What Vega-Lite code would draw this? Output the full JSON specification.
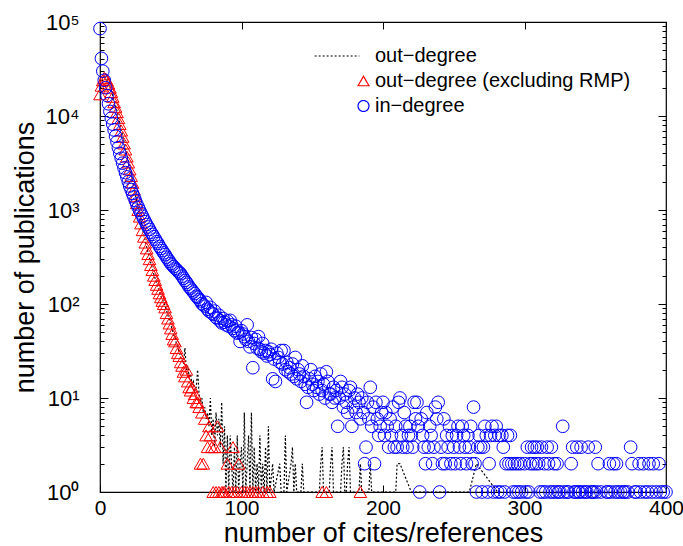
{
  "$schema": "https://vega.github.io/schema/vega-lite/v6.json",
  "width": 566,
  "height": 470,
  "autosize": "none",
  "padding": {"left": 100, "top": 22, "right": 17, "bottom": 54},
  "config": {
    "font": "Liberation Sans",
    "view": {"stroke": "black", "strokeWidth": 1.2},
    "axis": {"grid": false, "domain": false, "tickColor": "black", "tickWidth": 1, "labelColor": "black", "titleColor": "black", "titleFontWeight": "normal", "labelFont": "Liberation Sans", "titleFont": "Liberation Sans"},
    "legend": {"orient": "none", "legendX": 256, "legendY": 24, "labelFontSize": 20, "labelFont": "Liberation Sans", "labelColor": "black", "labelLimit": 0, "symbolSize": 120, "symbolStrokeWidth": 1.2, "labelOffset": -1, "rowPadding": 5, "padding": 0}
  },
  "datasets": {
    "indeg": [
      {"k":0,"n":85000},{"k":1,"n":41000},{"k":2,"n":30000},{"k":3,"n":24000},{"k":4,"n":20000},{"k":5,"n":16500},{"k":6,"n":13500},{"k":7,"n":11200},{"k":8,"n":9500},{"k":9,"n":8200},
      {"k":10,"n":7100},{"k":11,"n":6100},{"k":12,"n":5300},{"k":13,"n":4600},{"k":14,"n":4000},{"k":15,"n":3550},{"k":16,"n":3150},{"k":17,"n":2800},{"k":18,"n":2500},{"k":19,"n":2250},
      {"k":20,"n":2000},{"k":21,"n":1800},{"k":22,"n":1650},{"k":23,"n":1500},{"k":24,"n":1380},{"k":25,"n":1260},{"k":26,"n":1160},{"k":27,"n":1070},{"k":28,"n":990},{"k":29,"n":920},
      {"k":30,"n":860},{"k":31,"n":800},{"k":32,"n":750},{"k":33,"n":700},{"k":34,"n":660},{"k":35,"n":620},{"k":36,"n":580},{"k":37,"n":550},{"k":38,"n":520},{"k":39,"n":490},
      {"k":40,"n":460},{"k":41,"n":440},{"k":42,"n":410},{"k":43,"n":390},{"k":44,"n":370},{"k":45,"n":350},{"k":46,"n":335},{"k":47,"n":315},{"k":48,"n":300},{"k":49,"n":285},
      {"k":50,"n":270},{"k":51,"n":260},{"k":52,"n":250},{"k":53,"n":240},{"k":54,"n":232},{"k":55,"n":224},{"k":56,"n":215},{"k":57,"n":210},{"k":58,"n":198},{"k":59,"n":188},
      {"k":60,"n":178},{"k":61,"n":170},{"k":62,"n":162},{"k":63,"n":152},{"k":64,"n":147},{"k":65,"n":140},{"k":66,"n":134},{"k":67,"n":129},{"k":68,"n":121},{"k":69,"n":118},
      {"k":70,"n":112},{"k":71,"n":108},{"k":72,"n":101},{"k":73,"n":98},{"k":74,"n":95},{"k":75,"n":104},{"k":76,"n":88},{"k":77,"n":84},{"k":78,"n":92},{"k":79,"n":80},
      {"k":80,"n":78},{"k":81,"n":84},{"k":82,"n":72},{"k":83,"n":70},{"k":84,"n":76},{"k":85,"n":66},{"k":86,"n":63},{"k":87,"n":70},{"k":88,"n":64},{"k":89,"n":60},
      {"k":90,"n":66},{"k":91,"n":58},{"k":92,"n":67},{"k":93,"n":60},{"k":94,"n":55},{"k":95,"n":52},{"k":96,"n":58},{"k":97,"n":49},{"k":98,"n":50},{"k":99,"n":40},
      {"k":100,"n":52},{"k":101,"n":48},{"k":102,"n":45},{"k":103,"n":42},{"k":104,"n":60},{"k":105,"n":40},{"k":106,"n":35},{"k":107,"n":44},{"k":108,"n":21},{"k":109,"n":38},
      {"k":110,"n":42},{"k":111,"n":34},{"k":112,"n":45},{"k":113,"n":33},{"k":114,"n":31},{"k":115,"n":38},{"k":116,"n":30},{"k":117,"n":32},{"k":118,"n":28},{"k":119,"n":31},
      {"k":120,"n":29},{"k":121,"n":33},{"k":122,"n":16},{"k":123,"n":26},{"k":124,"n":15},{"k":125,"n":30},{"k":126,"n":27},{"k":127,"n":24},{"k":128,"n":32},{"k":129,"n":23},
      {"k":130,"n":32},{"k":131,"n":20},{"k":132,"n":24},{"k":133,"n":19},{"k":134,"n":21},{"k":135,"n":18},{"k":136,"n":23},{"k":137,"n":17},{"k":138,"n":27},{"k":139,"n":16},
      {"k":140,"n":20},{"k":141,"n":18},{"k":142,"n":15},{"k":143,"n":22},{"k":144,"n":17},{"k":145,"n":14},{"k":146,"n":9},{"k":147,"n":13},{"k":148,"n":16},{"k":149,"n":20},
      {"k":150,"n":14},{"k":151,"n":12},{"k":152,"n":17},{"k":153,"n":13},{"k":154,"n":15},{"k":155,"n":11},{"k":156,"n":18},{"k":157,"n":12},{"k":158,"n":14},{"k":159,"n":10},
      {"k":160,"n":19},{"k":161,"n":15},{"k":162,"n":11},{"k":163,"n":11},{"k":164,"n":9},{"k":165,"n":13},{"k":166,"n":10},{"k":167,"n":12},{"k":168,"n":5},{"k":169,"n":10},
      {"k":170,"n":15},{"k":171,"n":13},{"k":172,"n":8},{"k":173,"n":11},{"k":174,"n":9},{"k":175,"n":7},{"k":176,"n":12},{"k":177,"n":13},{"k":178,"n":5},{"k":179,"n":8},
      {"k":180,"n":10},{"k":181,"n":7},{"k":182,"n":11},{"k":183,"n":9},{"k":184,"n":6},{"k":185,"n":10},{"k":186,"n":7},{"k":187,"n":2},{"k":188,"n":3},{"k":189,"n":9},
      {"k":190,"n":6},{"k":191,"n":13},{"k":192,"n":5},{"k":193,"n":8},{"k":194,"n":2},{"k":195,"n":9},{"k":196,"n":6},{"k":197,"n":4},{"k":198,"n":5},{"k":199,"n":7},
      {"k":200,"n":9},{"k":201,"n":4},{"k":202,"n":7},{"k":203,"n":5},{"k":204,"n":3},{"k":205,"n":6},{"k":206,"n":4},{"k":207,"n":8},{"k":208,"n":3},{"k":209,"n":5},
      {"k":210,"n":3},{"k":211,"n":9},{"k":212,"n":10},{"k":213,"n":4},{"k":214,"n":3},{"k":215,"n":7},{"k":216,"n":5},{"k":217,"n":3},{"k":218,"n":4},{"k":219,"n":5},
      {"k":220,"n":4},{"k":221,"n":3},{"k":222,"n":9},{"k":223,"n":6},{"k":224,"n":9},{"k":225,"n":5},{"k":226,"n":1},{"k":227,"n":6},{"k":228,"n":4},{"k":229,"n":3},
      {"k":230,"n":2},{"k":231,"n":7},{"k":232,"n":3},{"k":233,"n":5},{"k":234,"n":4},{"k":235,"n":2},{"k":236,"n":3},{"k":237,"n":8},{"k":238,"n":6},{"k":239,"n":9},
      {"k":240,"n":1},{"k":241,"n":3},{"k":242,"n":2},{"k":243,"n":6},{"k":244,"n":2},{"k":245,"n":4},{"k":246,"n":3},{"k":247,"n":5},{"k":248,"n":2},{"k":249,"n":4},
      {"k":250,"n":3},{"k":251,"n":2},{"k":252,"n":4},{"k":253,"n":5},{"k":254,"n":3},{"k":255,"n":2},{"k":256,"n":5},{"k":257,"n":4},{"k":258,"n":3},{"k":259,"n":2},
      {"k":260,"n":4},{"k":261,"n":3},{"k":262,"n":5},{"k":263,"n":2},{"k":264,"n":8},{"k":265,"n":2},{"k":266,"n":1},{"k":267,"n":3},{"k":268,"n":4},{"k":269,"n":3},
      {"k":270,"n":1},{"k":271,"n":3},{"k":272,"n":5},{"k":273,"n":4},{"k":274,"n":1},{"k":275,"n":2},{"k":276,"n":4},{"k":277,"n":5},{"k":278,"n":1},{"k":279,"n":4},
      {"k":280,"n":5},{"k":281,"n":1},{"k":282,"n":4},{"k":283,"n":1},{"k":284,"n":4},{"k":285,"n":3},{"k":286,"n":1},{"k":287,"n":2},{"k":288,"n":4},{"k":289,"n":2},
      {"k":290,"n":4},{"k":291,"n":2},{"k":292,"n":1},{"k":293,"n":2},{"k":294,"n":1},{"k":295,"n":2},{"k":296,"n":1},{"k":297,"n":2},{"k":298,"n":1},{"k":300,"n":2},
      {"k":301,"n":1},{"k":302,"n":3},{"k":303,"n":1},{"k":304,"n":2},{"k":305,"n":3},{"k":306,"n":2},{"k":307,"n":3},{"k":308,"n":2},{"k":309,"n":3},{"k":310,"n":2},
      {"k":311,"n":1},{"k":312,"n":3},{"k":313,"n":1},{"k":314,"n":2},{"k":315,"n":1},{"k":316,"n":3},{"k":317,"n":2},{"k":318,"n":1},{"k":319,"n":3},{"k":320,"n":1},
      {"k":321,"n":2},{"k":322,"n":1},{"k":323,"n":2},{"k":324,"n":1},{"k":325,"n":1},{"k":327,"n":5},{"k":328,"n":1},{"k":330,"n":1},{"k":331,"n":1},{"k":333,"n":2},
      {"k":334,"n":3},{"k":335,"n":1},{"k":336,"n":1},{"k":337,"n":3},{"k":338,"n":1},{"k":339,"n":1},{"k":340,"n":3},{"k":341,"n":1},{"k":343,"n":1},{"k":344,"n":1},
      {"k":345,"n":3},{"k":347,"n":1},{"k":348,"n":1},{"k":349,"n":1},{"k":350,"n":3},{"k":351,"n":1},{"k":352,"n":2},{"k":354,"n":1},{"k":358,"n":1},{"k":359,"n":1},
      {"k":360,"n":2},{"k":361,"n":1},{"k":363,"n":2},{"k":364,"n":1},{"k":365,"n":2},{"k":366,"n":1},{"k":368,"n":1},{"k":370,"n":1},{"k":371,"n":1},{"k":373,"n":1},
      {"k":375,"n":3},{"k":376,"n":2},{"k":378,"n":1},{"k":379,"n":1},{"k":381,"n":2},{"k":382,"n":1},{"k":384,"n":2},{"k":385,"n":1},{"k":387,"n":1},{"k":388,"n":2},
      {"k":390,"n":1},{"k":391,"n":2},{"k":393,"n":1},{"k":395,"n":2},{"k":396,"n":1},{"k":398,"n":1},{"k":400,"n":1}
    ],
    "outrmp": [
      {"k":0,"n":17000},{"k":1,"n":21000},{"k":2,"n":24000},{"k":3,"n":25500},{"k":4,"n":25000},{"k":5,"n":24000},{"k":6,"n":22000},{"k":7,"n":20000},{"k":8,"n":18000},{"k":9,"n":16000},
      {"k":10,"n":14000},{"k":11,"n":12500},{"k":12,"n":11000},{"k":13,"n":9500},{"k":14,"n":8200},{"k":15,"n":7000},{"k":16,"n":6000},{"k":17,"n":5100},{"k":18,"n":4400},{"k":19,"n":3700},
      {"k":20,"n":3200},{"k":21,"n":2700},{"k":22,"n":2300},{"k":23,"n":1950},{"k":24,"n":1650},{"k":25,"n":1400},{"k":26,"n":1180},{"k":27,"n":1000},{"k":28,"n":850},{"k":29,"n":720},
      {"k":30,"n":610},{"k":31,"n":520},{"k":32,"n":450},{"k":33,"n":390},{"k":34,"n":340},{"k":35,"n":300},{"k":36,"n":260},{"k":37,"n":230},{"k":38,"n":200},{"k":39,"n":180},
      {"k":40,"n":160},{"k":41,"n":145},{"k":42,"n":130},{"k":43,"n":118},{"k":44,"n":108},{"k":45,"n":100},{"k":46,"n":92},{"k":47,"n":80},{"k":48,"n":70},{"k":49,"n":62},
      {"k":50,"n":55},{"k":51,"n":48},{"k":52,"n":42},{"k":53,"n":40},{"k":54,"n":34},{"k":55,"n":30},{"k":56,"n":28},{"k":57,"n":24},{"k":58,"n":22},{"k":59,"n":19},
      {"k":60,"n":17},{"k":61,"n":20},{"k":62,"n":15},{"k":63,"n":13},{"k":64,"n":12},{"k":65,"n":13},{"k":66,"n":10},{"k":67,"n":11},{"k":68,"n":9},{"k":69,"n":9},
      {"k":70,"n":8},{"k":71,"n":2},{"k":72,"n":7},{"k":73,"n":2},{"k":74,"n":6},{"k":75,"n":4},{"k":76,"n":3},{"k":77,"n":5},{"k":78,"n":4},{"k":79,"n":3},
      {"k":80,"n":1},{"k":81,"n":3},{"k":82,"n":1},{"k":83,"n":5},{"k":84,"n":1},{"k":85,"n":3},{"k":86,"n":1},{"k":87,"n":1},{"k":88,"n":1},{"k":90,"n":2},
      {"k":91,"n":1},{"k":93,"n":1},{"k":94,"n":3},{"k":95,"n":1},{"k":97,"n":1},{"k":98,"n":2},{"k":100,"n":1},{"k":102,"n":1},{"k":104,"n":1},{"k":106,"n":1},
      {"k":108,"n":1},{"k":110,"n":1},{"k":112,"n":1},{"k":115,"n":1},{"k":118,"n":1},{"k":120,"n":1},{"k":157,"n":1},{"k":160,"n":1},{"k":184,"n":1}
    ],
    "out": [
      {"k":0,"n":17500},{"k":1,"n":21500},{"k":2,"n":24500},{"k":3,"n":26000},{"k":4,"n":25500},{"k":5,"n":24500},{"k":6,"n":22500},{"k":7,"n":20500},{"k":8,"n":18500},{"k":9,"n":16500},
      {"k":10,"n":14500},{"k":11,"n":12900},{"k":12,"n":11300},{"k":13,"n":9800},{"k":14,"n":8500},{"k":15,"n":7300},{"k":16,"n":6200},{"k":17,"n":5300},{"k":18,"n":4550},{"k":19,"n":3850},
      {"k":20,"n":3300},{"k":21,"n":2800},{"k":22,"n":2380},{"k":23,"n":2020},{"k":24,"n":1710},{"k":25,"n":1450},{"k":26,"n":1230},{"k":27,"n":1040},{"k":28,"n":880},{"k":29,"n":750},
      {"k":30,"n":635},{"k":31,"n":540},{"k":32,"n":465},{"k":33,"n":405},{"k":34,"n":352},{"k":35,"n":310},{"k":36,"n":270},{"k":37,"n":238},{"k":38,"n":208},{"k":39,"n":186},
      {"k":40,"n":166},{"k":41,"n":150},{"k":42,"n":135},{"k":43,"n":122},{"k":44,"n":112},{"k":45,"n":105},{"k":46,"n":96},{"k":47,"n":86},{"k":48,"n":76},{"k":49,"n":68},
      {"k":50,"n":60},{"k":51,"n":54},{"k":52,"n":47},{"k":53,"n":44},{"k":54,"n":38},{"k":55,"n":34},{"k":56,"n":31},{"k":57,"n":27},{"k":58,"n":25},{"k":59,"n":23},
      {"k":60,"n":34},{"k":61,"n":20},{"k":62,"n":22},{"k":63,"n":17},{"k":64,"n":18},{"k":65,"n":14},{"k":66,"n":15},{"k":67,"n":12},{"k":68,"n":13},{"k":69,"n":20},
      {"k":70,"n":11},{"k":71,"n":9},{"k":72,"n":10},{"k":73,"n":7},{"k":74,"n":8},{"k":75,"n":6},{"k":76,"n":7},{"k":77,"n":5},{"k":78,"n":10},{"k":79,"n":4},
      {"k":80,"n":6},{"k":81,"n":3},{"k":82,"n":7},{"k":83,"n":4},{"k":84,"n":6},{"k":85,"n":3},{"k":86,"n":9},{"k":87,"n":2},{"k":88,"n":5},{"k":89,"n":1},
      {"k":90,"n":4},{"k":91,"n":1},{"k":92,"n":4},{"k":93,"n":2},{"k":94,"n":1},{"k":95,"n":3},{"k":96,"n":1},{"k":97,"n":4},{"k":98,"n":1},{"k":99,"n":2},
      {"k":100,"n":3},{"k":101,"n":1},{"k":102,"n":7},{"k":103,"n":1},{"k":104,"n":2},{"k":105,"n":4},{"k":106,"n":1},{"k":107,"n":7},{"k":108,"n":1},{"k":109,"n":3},
      {"k":110,"n":1},{"k":111,"n":2},{"k":112,"n":1},{"k":113,"n":4},{"k":114,"n":1},{"k":115,"n":2},{"k":116,"n":1},{"k":117,"n":3},{"k":118,"n":1},{"k":119,"n":5},
      {"k":120,"n":1},{"k":122,"n":2},{"k":123,"n":1},{"k":127,"n":2},{"k":128,"n":1},{"k":130,"n":1},{"k":131,"n":4},{"k":132,"n":1},{"k":135,"n":2},{"k":136,"n":3},
      {"k":137,"n":1},{"k":138,"n":2},{"k":139,"n":1},{"k":142,"n":1},{"k":143,"n":2},{"k":144,"n":1},{"k":155,"n":1},{"k":156,"n":2},{"k":157,"n":3},{"k":158,"n":1},
      {"k":162,"n":1},{"k":163,"n":2},{"k":164,"n":3},{"k":165,"n":1},{"k":170,"n":1},{"k":171,"n":2},{"k":172,"n":3},{"k":173,"n":1},{"k":174,"n":1},{"k":175,"n":2},
      {"k":176,"n":3},{"k":177,"n":1},{"k":183,"n":1},{"k":184,"n":2},{"k":185,"n":1},{"k":190,"n":1},{"k":191,"n":2},{"k":192,"n":1},{"k":209,"n":1},{"k":210,"n":2},
      {"k":212,"n":2},{"k":220,"n":1},{"k":261,"n":1},{"k":266,"n":2},{"k":281,"n":1},{"k":283,"n":1}
    ],
    "frame": [{"k": 0, "n": 1}]
  },
  "layer": [
    {
      "data": {"name": "out"},
      "mark": {"type": "line", "strokeWidth": 1.2, "strokeDash": [2, 2]},
      "encoding": {
        "x": {"field": "k", "type": "quantitative", "scale": {"domain": [0, 400], "nice": false, "zero": false}, "axis": null},
        "y": {"field": "n", "type": "quantitative", "scale": {"type": "log", "domain": [1, 100000], "nice": false}, "axis": null},
        "color": {
          "datum": "out−degree", "type": "nominal",
          "scale": {"domain": ["out−degree", "out−degree (excluding RMP)", "in−degree"], "range": ["black", "red", "blue"]},
          "legend": {
            "title": null,
            "encode": {
              "symbols": {
                "update": {
                  "shape": {"signal": "datum.value === 'out−degree' ? 'stroke' : datum.value === 'in−degree' ? 'circle' : 'triangle-up'"},
                  "size": {"signal": "datum.value === 'out−degree' ? 2000 : 120"},
                  "x": {"signal": "datum.value === 'out−degree' ? -19 : 7.5"},
                  "strokeDash": {"signal": "datum.value === 'out−degree' ? [2, 2] : [1, 0]"},
                  "fill": {"value": "transparent"},
                  "stroke": {"scale": "color", "field": "value"},
                  "strokeWidth": {"value": 1.2},
                  "opacity": {"value": 1}
                }
              }
            }
          }
        }
      }
    },
    {
      "data": {"name": "outrmp"},
      "mark": {"type": "point", "shape": "triangle-up", "filled": false, "size": 160, "strokeWidth": 1, "opacity": 1},
      "encoding": {
        "x": {"field": "k", "type": "quantitative", "axis": null},
        "y": {"field": "n", "type": "quantitative", "axis": null},
        "color": {"datum": "out−degree (excluding RMP)", "type": "nominal"}
      }
    },
    {
      "data": {"name": "indeg"},
      "mark": {"type": "point", "shape": "circle", "filled": false, "size": 160, "strokeWidth": 1, "opacity": 1},
      "encoding": {
        "x": {
          "field": "k", "type": "quantitative",
          "axis": {"orient": "bottom", "offset": -7, "values": [0, 100, 200, 300, 400], "tickSize": 7, "labelPadding": 5, "labelFontSize": 21, "labelFlush": false,
                   "title": "number of cites/references", "titleFontSize": 27, "titleY": 56, "titleBaseline": "alphabetic"}
        },
        "y": {
          "field": "n", "type": "quantitative",
          "axis": {
            "orient": "left", "offset": -8, "values": [1, 10, 100, 1000, 10000, 100000], "tickSize": 8, "labelPadding": 21, "labelFontSize": 22, "labelFlush": false,
            "labelExpr": "'10' + ['⁰', '¹', '²', '³', '⁴', '⁵'][round(log(datum.value) / LN10)]",
            "title": "number of publications", "titleFontSize": 27, "titleX": -75, "titleY": 235, "titleBaseline": "alphabetic"
          }
        },
        "color": {"datum": "in−degree", "type": "nominal"}
      }
    },
    {
      "data": {"name": "frame"},
      "mark": {"type": "point", "opacity": 0},
      "encoding": {
        "x": {"field": "k", "type": "quantitative", "axis": {"orient": "top", "offset": -7, "values": [0, 100, 200, 300, 400], "tickSize": 7, "labels": false, "title": null}},
        "y": {"field": "n", "type": "quantitative", "axis": {"orient": "right", "offset": -8, "values": [1, 10, 100, 1000, 10000, 100000], "tickSize": 8, "labels": false, "title": null}}
      }
    },
    {
      "data": {"name": "frame"},
      "mark": {"type": "point", "opacity": 0},
      "encoding": {
        "x": {"field": "k", "type": "quantitative", "axis": null},
        "y": {"field": "n", "type": "quantitative", "axis": {"orient": "left", "offset": -4, "values": [2, 3, 4, 5, 6, 7, 8, 9, 20, 30, 40, 50, 60, 70, 80, 90, 200, 300, 400, 500, 600, 700, 800, 900, 2000, 3000, 4000, 5000, 6000, 7000, 8000, 9000, 20000, 30000, 40000, 50000, 60000, 70000, 80000, 90000], "tickSize": 4, "labels": false, "title": null}}
      }
    },
    {
      "data": {"name": "frame"},
      "mark": {"type": "point", "opacity": 0},
      "encoding": {
        "x": {"field": "k", "type": "quantitative", "axis": null},
        "y": {"field": "n", "type": "quantitative", "axis": {"orient": "right", "offset": -4, "values": [2, 3, 4, 5, 6, 7, 8, 9, 20, 30, 40, 50, 60, 70, 80, 90, 200, 300, 400, 500, 600, 700, 800, 900, 2000, 3000, 4000, 5000, 6000, 7000, 8000, 9000, 20000, 30000, 40000, 50000, 60000, 70000, 80000, 90000], "tickSize": 4, "labels": false, "title": null}}
      }
    }
  ],
  "resolve": {"axis": {"x": "independent", "y": "independent"}}
}
